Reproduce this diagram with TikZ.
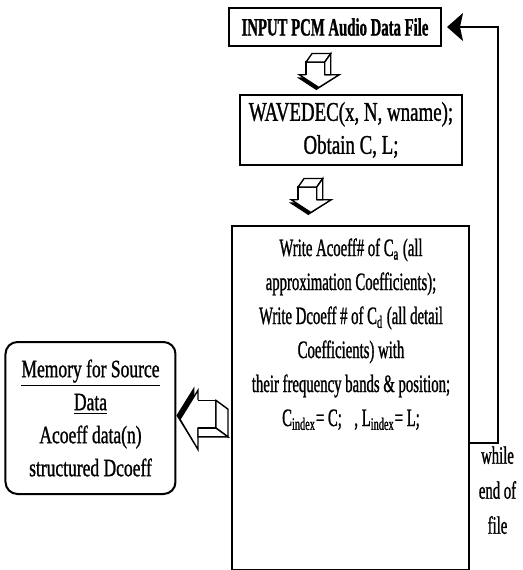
\documentclass[tikz,border=0pt]{standalone}
\usepackage{fontspec}
\setmainfont{Liberation Serif}[FakeStretch=0.59, FakeBold=1]
\newfontfamily\widefam{Liberation Serif}[FakeStretch=0.7, FakeBold=1]
\usetikzlibrary{arrows.meta, positioning, calc}

\newcommand{\flowfont}{\fontsize{12.5}{17}\selectfont}
\newcommand{\wavefont}{\widefam\fontsize{13.5}{16.5}\selectfont}
\newcommand{\memfont}{\widefam\fontsize{12.5}{16.5}\selectfont}
\newcommand{\sidefont}{\fontsize{12.5}{17.5}\selectfont}

% 3-D block arrow pointing down (units: pixels of the picture)
\tikzset{
  blkdown/.pic={
    \fill (-25,8) -- (21,8) -- (-2,23) -- cycle;
    \filldraw[fill=white, line width=0.7pt] (-22,5) -- (25,5) -- (1,20) -- cycle;
    \fill[white] (-14,-10) rectangle (8,6);
    \draw[line width=0.7pt] (-14,5) -- (-14,-10) -- (8,-10) -- (8,5);
    \filldraw[fill=white, line width=0.7pt] (-14,-10) -- (-7,-20) -- (15,-20) -- (8,-10) -- cycle;
    \filldraw[fill=white, line width=0.7pt] (8,-10) -- (15,-20) -- (15,5) -- (8,5) -- cycle;
  }
}

\begin{document}
\begin{tikzpicture}[
    x=0.5pt, y=-0.5pt,
    box/.style      = {rectangle, draw, line width=1pt, align=center,
                       font=\flowfont, inner sep=0pt},
    inbox/.style    = {box, font=\bfseries\flowfont},
    wavebox/.style  = {box, font=\wavefont},
    membox/.style   = {box, rounded corners=6pt, font=\memfont},
    bodytext/.style = {align=center, font=\flowfont, inner sep=0pt},
    sidetext/.style = {align=center, font=\sidefont, inner sep=0pt},
    loopline/.style = {line width=1pt, -{Stealth[length=8pt, width=14pt, inset=1.5pt]}}
]
\useasboundingbox (0,0) rectangle (523,570);

% ========= main column =========
\node[inbox, minimum width=106pt, minimum height=19pt] (in) at (335,27)
    {INPUT PCM Audio Data File};
\node[wavebox, minimum width=111pt, minimum height=35pt,
      below=23.5pt of in, xshift=8pt] (wave)
    {WAVEDEC(x, N, wname);\\Obtain C, L;};
\node[box, minimum width=118.5pt, minimum height=172pt, below=29.5pt of wave] (main) {};
\node[bodytext, anchor=north] (maintxt) at ([yshift=-6.5pt]main.north)
    {Write Acoeff\# of C\textsubscript{a} (all\\
     approximation Coefficients);\\
     Write Dcoeff \# of C\textsubscript{d} (all detail\\
     Coefficients) with\\
     their frequency bands \& position;\\
     C\textsubscript{index}= C;\enspace, L\textsubscript{index}= L;};

% ========= memory =========
\node[membox, minimum width=85pt, minimum height=76pt,
      left=27.5pt of main, yshift=-10pt] (mem)
    {\underline{Memory for Source}\\\underline{Data}\\Acoeff data(n)\\structured Dcoeff};

% ========= block arrows =========
\coordinate (arr1) at ($($(in.south)!0.5!(wave.north)$)+(-25,0)$);
\coordinate (arr2) at ($($(wave.south)!0.5!(main.north)$)+(-41,0)$);
\coordinate (arr3) at ($(mem.east)!0.5!(main.west |- mem.east)$);
\pic[scale=0.85] at (arr1) {blkdown};
\pic[scale=0.85] at (arr2) {blkdown};
\pic[rotate=-90, xscale=1.26, yscale=1.2] at (arr3) {blkdown};

% ========= loop back =========
\coordinate (fbstart) at ($(main.north east)!0.63!(main.south east)$);
\draw[loopline] (fbstart) -- ++(14pt,0) |- ([xshift=2.5pt]in.east);
\node[sidetext, anchor=north] (eof) at ([xshift=13.5pt, yshift=-1.5pt]fbstart)
    {while\\end of\\file};
\end{tikzpicture}
\end{document}
